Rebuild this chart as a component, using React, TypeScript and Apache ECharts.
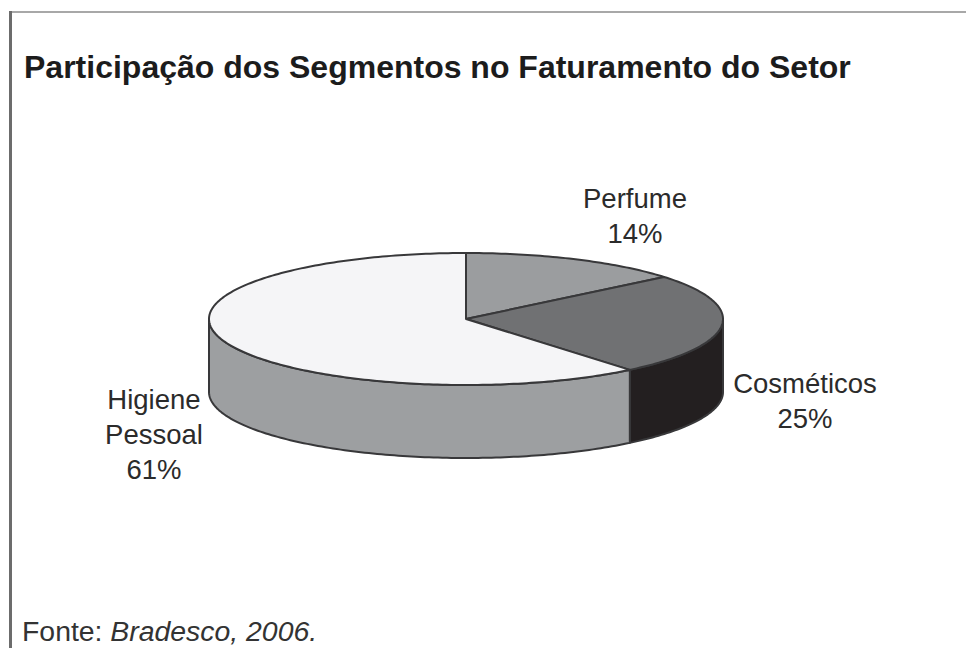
import React, { useEffect, useRef } from "react";
import * as echarts from "echarts";

const segments = ["Perfume", "Cosméticos", "Higiene\nPessoal"];
const shares = [14, 25, 61];
const titleText = "Participação dos Segmentos no Faturamento do Setor";

const topColors = ["#9b9d9f", "#707173", "#f5f5f7"];
const sideColors = ["#9b9d9f", "#231f20", "#9d9fa1"];
const labelAnchors = [
  [635, 216],
  [805, 401],
  [154, 434],
];
const cx = 466, cy = 319, rx = 257, ry = 66, depth = 73;

const pt = (deg: number, dy = 0): number[] => {
  const a = (deg * Math.PI) / 180;
  return [cx + rx * Math.sin(a), cy - ry * Math.cos(a) + dy];
};
const arc = (from: number, to: number, dy = 0): number[][] => {
  const out: number[][] = [];
  const n = Math.max(2, Math.ceil(Math.abs(to - from)));
  for (let i = 0; i <= n; i++) out.push(pt(from + ((to - from) * i) / n, dy));
  return out;
};

const renderItem = (params: any, api: any) => {
  const i = params.dataIndex;
  const total = shares.reduce((s, v) => s + v, 0);
  const before = shares.slice(0, i).reduce((s, v) => s + v, 0);
  const start = (before / total) * 360;
  const end = start + (api.value(0) / total) * 360;
  const children: any[] = [];
  const sStart = Math.max(start, 90);
  const sEnd = Math.min(end, 270);
  const stroke = { stroke: "#38383a", lineWidth: 2, lineJoin: "round" };
  if (sEnd > sStart) {
    children.push({
      type: "polygon",
      shape: { points: [...arc(sStart, sEnd), ...arc(sEnd, sStart, depth)] },
      style: { fill: sideColors[i], ...stroke },
    });
  }
  children.push({
    type: "polygon",
    shape: { points: [[cx, cy], ...arc(start, end)] },
    style: { fill: topColors[i], ...stroke },
  });
  children.push({
    type: "text",
    style: {
      x: labelAnchors[i][0],
      y: labelAnchors[i][1],
      text: `${segments[i]}\n${api.value(0)}%`,
      fill: "#2b2b2b",
      font: '27.5px "Liberation Sans"',
      lineHeight: 35,
      align: "center",
      verticalAlign: "middle",
    },
  });
  return { type: "group", children };
};

export default function App() {
  const ref = useRef<HTMLDivElement>(null);
  useEffect(() => {
    const chart = echarts.init(ref.current!, undefined, { renderer: "svg" });
    chart.setOption({
      animation: false,
      backgroundColor: "#ffffff",
      graphic: [
        { type: "rect", shape: { x: 9, y: 11, width: 957, height: 2 }, style: { fill: "#a8a8a8" } },
        { type: "rect", shape: { x: 9, y: 11, width: 3, height: 637 }, style: { fill: "#6c6c6c" } },
        {
          type: "text",
          x: 24,
          y: 51,
          style: {
            text: titleText,
            fill: "#1c1c1c",
            font: 'bold 32px "Liberation Sans"',
          },
        },
        {
          type: "text",
          x: 22,
          y: 617,
          style: {
            text: "{a|Fonte: }{b|Bradesco, 2006.}",
            fill: "#333333",
            rich: {
              a: { font: '28.4px "Liberation Sans"', fill: "#333333" },
              b: { font: 'italic 28.4px "Liberation Sans"', fill: "#333333" },
            },
          },
        },
      ],
      series: [
        {
          type: "custom",
          coordinateSystem: "none",
          silent: true,
          renderItem,
          data: shares.map((v) => [v]),
        },
      ],
    });
    return () => chart.dispose();
  }, []);
  return <div ref={ref} style={{ position: "fixed", left: 0, top: 0, width: 966, height: 648 }} />;
}
